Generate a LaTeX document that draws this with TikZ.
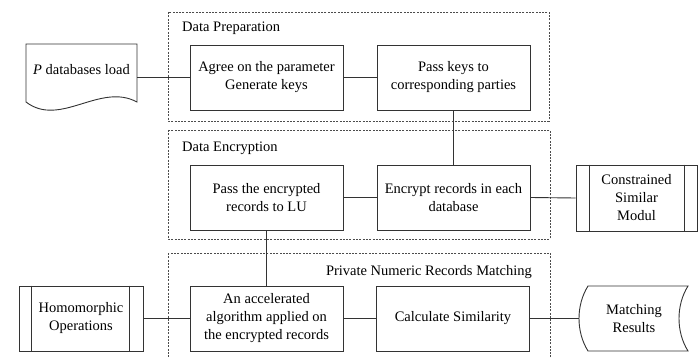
\documentclass[tikz,border=0pt]{standalone}
\usepackage{fontspec}
\setmainfont{Liberation Serif}
\begin{document}
\begin{tikzpicture}[x=1pt,y=-1pt,
  font=\fontsize{14.5}{18}\selectfont,
  ln/.style={draw=black!80,line width=0.9pt},
  stage/.style={draw=black!70,line width=0.6pt,dash pattern=on 2pt off 1.3pt},
  proc/.style={ln,minimum width=153pt,minimum height=65pt,align=center,inner sep=2pt},
  side/.style={ln,align=center,inner sep=2pt},
  lbl/.style={inner sep=0pt}]
\useasboundingbox (0,0) rectangle (700,358);
\clip (0,0) rectangle (700,358);

% stage frames
\draw[stage] (168,12) rectangle (549,121);
\draw[stage] (168,130) rectangle (550,239);
\draw[stage] (168,253) rectangle (550,365);
\node[lbl,anchor=base west] (t1) at (182,32) {Data Preparation};
\node[lbl,anchor=base west] (t2) at (182,151) {Data Encryption};
\node[lbl,anchor=base east] (t3) at (532,275) {Private Numeric Records Matching};

% process boxes
\node[proc] (agree) at (266.5,77.5) {Agree on the parameter\\Generate keys};
\node[proc] (keys)  at (453.5,77.5) {Pass keys to\\corresponding parties};
\node[proc] (pass)  at (266.5,197.5) {Pass the encrypted\\records to LU};
\node[proc] (enc)   at (453.5,197.5) {Encrypt records in each\\database};
\node[proc] (acc)   at (266.5,318.5) {An accelerated\\algorithm applied on\\the encrypted records};
\node[proc] (sim)   at (453,318.5) {Calculate Similarity};

% predefined-process boxes
\node[side,minimum width=121pt,minimum height=66pt] (csm) at (636.5,198) {Constrained\\Similar\\Modul};
\draw[ln] ([xshift=14pt]csm.north west) -- ([xshift=14pt]csm.south west)
          ([xshift=-13pt]csm.north east) -- ([xshift=-13pt]csm.south east);
\node[side,minimum width=124pt,minimum height=65pt] (hom) at (81,318.5) {Homomorphic\\Operations};
\draw[ln] ([xshift=13pt]hom.north west) -- ([xshift=13pt]hom.south west)
          ([xshift=-14pt]hom.north east) -- ([xshift=-14pt]hom.south east);

% document: P databases load
\draw[ln] (26,44) -- (137,44) -- (137,102)
  .. controls (100,82) and (60,128) .. (26,102) -- cycle;
\node[lbl] (pdb) at (81.5,70) {\textit{P} databases load};
\coordinate (pdbout) at (137,77.5);

% stored data: Matching Results
\draw[ln] (588,286) -- (688,286)
  .. controls (676,305) and (676,332) .. (688,351) -- (588,351)
  .. controls (576,332) and (576,305) .. cycle;
\node[lbl,align=center] (res) at (634,318.5) {Matching\\Results};
\coordinate (resin) at (579,318.5);

% connectors
\draw[ln] (pdbout) -- (agree.west);
\draw[ln] (agree) -- (keys);
\draw[ln] (keys.south) -- (enc.north);
\draw[ln] (enc) -- (pass);
\draw[ln] (enc.east) -- (csm.west);
\draw[ln] (pass.south) -- (acc.north);
\draw[ln] (hom.east) -- (acc.west);
\draw[ln] (acc) -- (sim);
\draw[ln] (sim.east) -- (resin);
\end{tikzpicture}
\end{document}
